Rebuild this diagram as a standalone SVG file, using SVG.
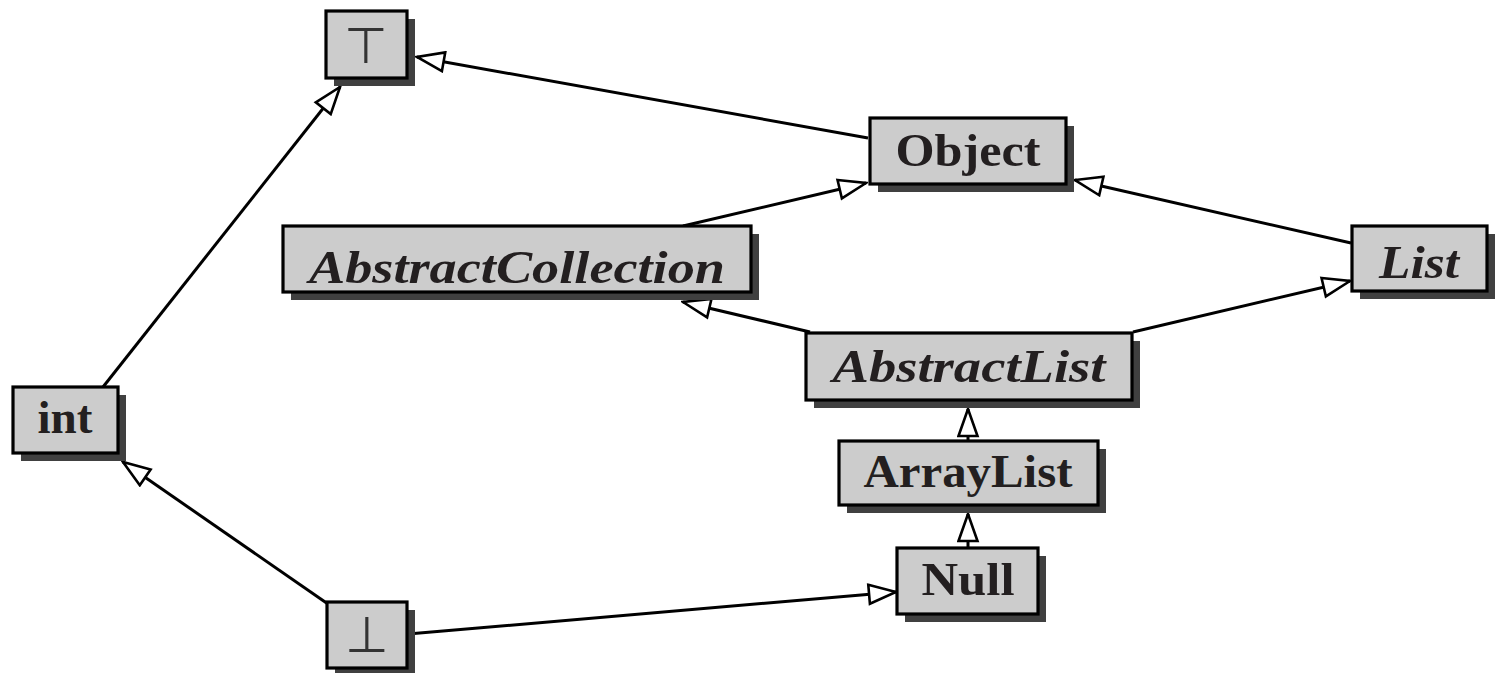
<svg xmlns="http://www.w3.org/2000/svg" width="1497" height="673" viewBox="0 0 1497 673">
<style>
.box{fill:#cccccc;stroke:#000;stroke-width:3.2}
.sh{fill:#404040}
.t{font-family:"Liberation Serif","DejaVu Serif",serif;font-weight:bold;font-size:46px;fill:#231f20;text-anchor:middle}
.i{font-style:italic}
.sym{font-family:"DejaVu Sans",sans-serif;font-size:50px;fill:#333;text-anchor:middle}
.e{stroke:#000;stroke-width:3;fill:none;marker-end:url(#tri)}
</style>
<defs>
<marker id="tri" markerUnits="userSpaceOnUse" viewBox="-2 -2 31 23" markerWidth="31" markerHeight="23" refX="27" refY="9.5" orient="auto">
<path d="M0,0 L27,9.5 L0,19 Z" fill="#fff" stroke="#000" stroke-width="2.6" stroke-linejoin="miter"/>
</marker>
</defs>
<rect width="1497" height="673" fill="#fff"/>
<g id="connectors">
<line class="e" x1="103" y1="387" x2="340" y2="87"/>
<line class="e" x1="868" y1="138" x2="417" y2="57"/>
<line class="e" x1="683" y1="226" x2="866" y2="183"/>
<line class="e" x1="1351" y1="243" x2="1075" y2="180"/>
<line class="e" x1="810" y1="332" x2="683" y2="302"/>
<line class="e" x1="1133" y1="332" x2="1350" y2="281"/>
<line class="e" x1="968" y1="441" x2="968" y2="409"/>
<line class="e" x1="968" y1="548" x2="968" y2="514"/>
<line class="e" x1="328" y1="604" x2="123" y2="462"/>
<line class="e" x1="408" y1="634" x2="896" y2="592"/>
</g>
<g id="top">
<rect class="sh" x="334" y="19" width="81" height="67"/>
<rect class="box" x="326" y="11" width="81" height="67"/>
<text class="sym" x="366" y="63">⊤</text>
</g>
<g id="object">
<rect class="sh" x="878" y="126" width="196" height="66"/>
<rect class="box" x="870" y="118" width="196" height="66"/>
<text class="t" x="968" y="166" textLength="145" lengthAdjust="spacingAndGlyphs">Object</text>
</g>
<g id="abstractcollection">
<rect class="sh" x="291" y="234" width="468" height="66"/>
<rect class="box" x="283" y="226" width="468" height="66"/>
<text class="t i" x="517" y="283" textLength="416" lengthAdjust="spacingAndGlyphs">AbstractCollection</text>
</g>
<g id="list">
<rect class="sh" x="1360" y="234" width="135" height="65"/>
<rect class="box" x="1352" y="226" width="135" height="65"/>
<text class="t i" x="1419" y="278" textLength="80" lengthAdjust="spacingAndGlyphs">List</text>
</g>
<g id="abstractlist">
<rect class="sh" x="814" y="341" width="326" height="67"/>
<rect class="box" x="806" y="333" width="326" height="67"/>
<text class="t i" x="969" y="382" textLength="273" lengthAdjust="spacingAndGlyphs">AbstractList</text>
</g>
<g id="arraylist">
<rect class="sh" x="847" y="449" width="259" height="64"/>
<rect class="box" x="839" y="441" width="259" height="64"/>
<text class="t" x="968" y="487" textLength="209" lengthAdjust="spacingAndGlyphs">ArrayList</text>
</g>
<g id="int">
<rect class="sh" x="21" y="395" width="105" height="66"/>
<rect class="box" x="13" y="387" width="105" height="66"/>
<text class="t" x="65" y="433" textLength="55" lengthAdjust="spacingAndGlyphs">int</text>
</g>
<g id="null">
<rect class="sh" x="905" y="556" width="141" height="66"/>
<rect class="box" x="897" y="548" width="141" height="66"/>
<text class="t" x="968" y="595" textLength="93" lengthAdjust="spacingAndGlyphs">Null</text>
</g>
<g id="bottom">
<rect class="sh" x="335" y="610" width="80" height="66"/>
<rect class="box" x="327" y="602" width="80" height="66"/>
<text class="sym" x="367" y="652">⊥</text>
</g>
</svg>
